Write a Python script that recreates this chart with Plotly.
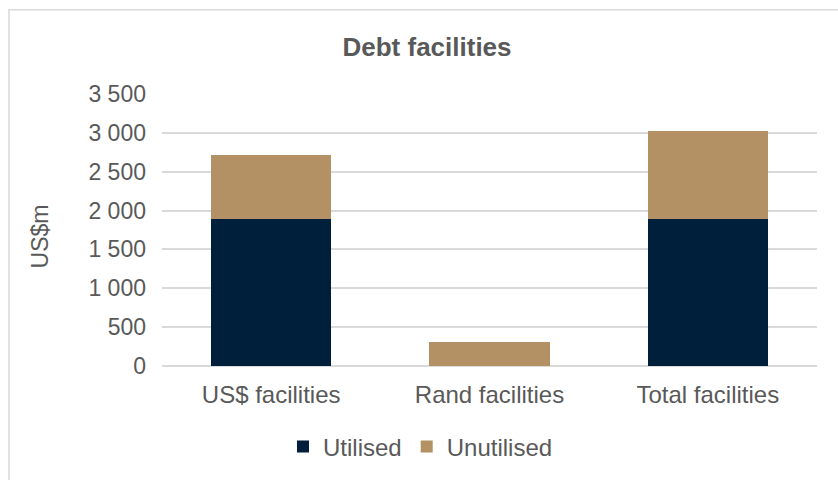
import plotly.graph_objects as go

categories = ["US$ facilities", "Rand facilities", "Total facilities"]
utilised = [1890, 0, 1890]
unutilised = [820, 305, 1140]
tick_vals = [0, 500, 1000, 1500, 2000, 2500, 3000, 3500]
tick_labels = ["0", "500", "1 000", "1 500", "2 000", "2 500", "3 000", "3 500"]

NAVY = "#001f3a"
TAN = "#b39164"
TXT = "#595959"
FONT = "Liberation Sans, Arial, sans-serif"

W, H = 838, 480
L, R, T, B = 162, 21, 94, 113
pw, ph = W - L - R, H - T - B


def px_x(px):
    return (px - L) / pw


def px_y(py):
    return (H - B - py) / ph


fig = go.Figure()
fig.add_trace(go.Bar(name="Utilised", x=categories, y=utilised,
                     marker=dict(color=NAVY, line=dict(width=0))))
fig.add_trace(go.Bar(name="Unutilised", x=categories, y=unutilised,
                     marker=dict(color=TAN, line=dict(width=0))))

fig.update_layout(
    width=W, height=H,
    barmode="stack", bargap=0.45,
    plot_bgcolor="white", paper_bgcolor="white",
    margin=dict(l=L, r=R, t=T, b=B),
    font=dict(family=FONT, color=TXT, size=24),
    title=dict(text="<b>Debt facilities</b>", x=427 / W, xanchor="center",
               y=1 - 47 / H, yanchor="middle",
               font=dict(size=26, color=TXT, family=FONT)),
    showlegend=True,
    legend=dict(orientation="h", x=px_x(283), xanchor="left",
                y=px_y(447), yanchor="middle", traceorder="normal",
                font=dict(size=24, color=TXT), itemwidth=30,
                bgcolor="rgba(0,0,0,0)"),
    xaxis=dict(showgrid=False, showline=False, ticks="", zeroline=False,
               tickfont=dict(size=24, color=TXT), ticklabelstandoff=12),
    yaxis=dict(range=[0, 3500], tickvals=tick_vals, ticktext=tick_labels,
               showgrid=True, gridcolor="#d9d9d9", gridwidth=1.5,
               zeroline=True, zerolinecolor="#d9d9d9", zerolinewidth=1.5,
               showline=False, ticks="", tickfont=dict(size=23, color=TXT),
               ticklabelstandoff=15),
)

fig.add_annotation(text="US$m", textangle=-90, xref="paper", yref="paper",
                   x=px_x(40), y=px_y(237), xanchor="center", yanchor="middle",
                   showarrow=False, font=dict(size=23, color=TXT, family=FONT))

fig.add_shape(type="rect", xref="paper", yref="paper",
              x0=px_x(9), x1=px_x(860), y0=px_y(500), y1=px_y(9.5),
              line=dict(color="#d9d9d9", width=1.5), fillcolor="rgba(0,0,0,0)",
              layer="below")

fig.write_html("out.html")
